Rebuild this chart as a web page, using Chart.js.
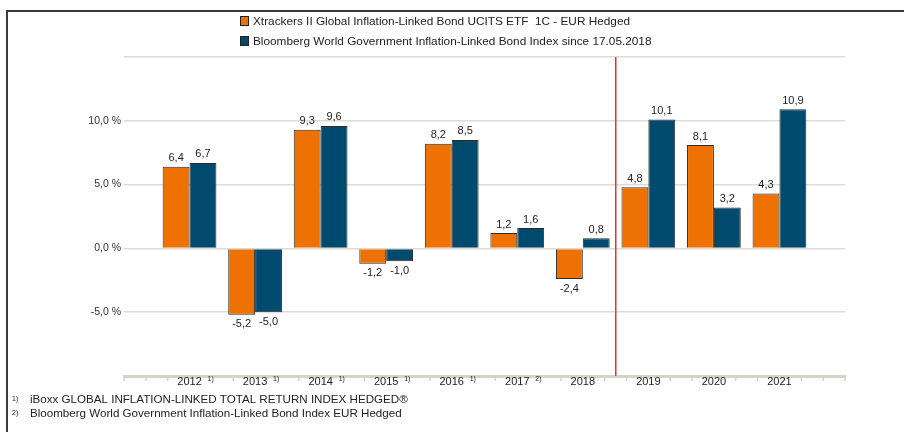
<!DOCTYPE html>
<html>
<head>
<meta charset="utf-8">
<script src="https://cdn.jsdelivr.net/npm/chart.js@4"></script>
<style>
html,body{margin:0;padding:0;background:#fff;}
#wrap{width:904px;height:432px;position:relative;}
</style>
</head>
<body>
<div id="wrap"><canvas id="c" width="904" height="432"></canvas></div>
<script>
const categories = ['2012','2013','2014','2015','2016','2017','2018','2019','2020','2021'];
const superscripts = ['1)','1)','1)','1)','1)','2)','','','',''];
const etfValues = [6.4,-5.2,9.3,-1.2,8.2,1.2,-2.4,4.8,8.1,4.3];
const indexValues = [6.7,-5.0,9.6,-1.0,8.5,1.6,0.8,10.1,3.2,10.9];
const seriesNames = [
  'Xtrackers II Global Inflation-Linked Bond UCITS ETF  1C - EUR Hedged',
  'Bloomberg World Government Inflation-Linked Bond Index since 17.05.2018'
];
const yTicks = [-10, -5, 0, 5, 10, 15];
const yLabeled = [-5, 0, 5, 10];
const footnotes = [
  ['1)', 'iBoxx GLOBAL INFLATION-LINKED TOTAL RETURN INDEX HEDGED®'],
  ['2)', 'Bloomberg World Government Inflation-Linked Bond Index EUR Hedged']
];
const splitAfter = '2018';

const FONT = '"Liberation Sans", Arial, sans-serif';
const ORANGE = '#EE7203';
const BLUE = '#004A6E';

const labels = ['', ...categories, ''];
const pad = a => [null, ...a, null];
const fmt = v => v.toFixed(1).replace('.', ',');

const decor = {
  id: 'decor',
  beforeDraw(chart) {
    const ctx = chart.ctx;
    ctx.save();
    ctx.fillStyle = '#fff';
    ctx.fillRect(0, 0, chart.width, chart.height);
    ctx.restore();
  },
  afterDatasetsDraw(chart) {
    const ctx = chart.ctx;
    const x = chart.scales.x, y = chart.scales.y;
    const ca = chart.chartArea;
    ctx.save();

    // data labels
    ctx.font = '11px ' + FONT;
    ctx.fillStyle = '#222';
    ctx.textAlign = 'center';
    chart.data.datasets.forEach((ds, di) => {
      const meta = chart.getDatasetMeta(di);
      meta.data.forEach((bar, i) => {
        const v = ds.data[i];
        if (v === null || v === undefined) return;
        if (v >= 0) { ctx.textBaseline = 'bottom'; ctx.fillText(fmt(v), bar.x, bar.y - 3); }
        else { ctx.textBaseline = 'top'; ctx.fillText(fmt(v), bar.x, bar.y + 4); }
      });
    });

    // x-axis minor ticks
    const step = (x.getPixelForValue(1) - x.getPixelForValue(0)) / 3;
    ctx.strokeStyle = '#D5D2C8';
    ctx.lineWidth = 1.5;
    const n = (labels.length - 1) * 3;
    for (let p = 0; p <= n; p++) {
      const li = Math.floor(p / 3);
      if (p % 3 === 0 && labels[li] !== '') continue;
      if (p % 3 === 1 && li >= 1 && li <= categories.length && superscripts[li - 1]) continue;
      const tx = x.getPixelForValue(0) + p * step;
      ctx.beginPath(); ctx.moveTo(tx, ca.bottom); ctx.lineTo(tx, ca.bottom + 5); ctx.stroke();
    }

    // superscripts
    ctx.font = '7px ' + FONT;
    ctx.fillStyle = '#222';
    ctx.textAlign = 'left';
    ctx.textBaseline = 'middle';
    categories.forEach((c, i) => {
      if (!superscripts[i]) return;
      const px = x.getPixelForValue(i + 1);
      ctx.fillText(superscripts[i], px + 18, ca.bottom + 3);
    });

    // legend
    const colors = [ORANGE, BLUE];
    seriesNames.forEach((name, i) => {
      const cy = 21 + i * 20;
      ctx.fillStyle = colors[i];
      ctx.fillRect(240, cy - 5, 9, 10);
      ctx.strokeStyle = '#222';
      ctx.lineWidth = 1;
      ctx.strokeRect(240.5, cy - 4.5, 8, 9);
      ctx.font = '11.8px ' + FONT;
      ctx.fillStyle = '#222';
      ctx.textAlign = 'left';
      ctx.textBaseline = 'middle';
      ctx.fillText(name, 253, cy + 0.5);
    });

    // footnotes
    footnotes.forEach((f, i) => {
      const fy = 399 + i * 14;
      ctx.font = '7px ' + FONT;
      ctx.fillText(f[0], 12, fy);
      ctx.font = '11.6px ' + FONT;
      ctx.fillText(f[1], 30, fy + 0.5);
    });

    // frame
    ctx.strokeStyle = '#3a3a3a';
    ctx.lineWidth = 2;
    ctx.beginPath();
    ctx.moveTo(7, chart.height); ctx.lineTo(7, 11); ctx.lineTo(chart.width, 11);
    ctx.stroke();
    ctx.restore();

    // red split line
    ctx.save();
    const si = labels.indexOf(splitAfter);
    const rx = Math.round(x.getPixelForValue(si + 0.5));
    ctx.fillStyle = '#E8302C';
    ctx.fillRect(rx - 1, ca.top, 1.5, ca.bottom - ca.top);
    ctx.restore();
  }
};

new Chart(document.getElementById('c'), {
  type: 'bar',
  data: {
    labels: labels,
    datasets: [
      { label: seriesNames[0], data: pad(etfValues), backgroundColor: ORANGE, borderColor: '#2b2b2b', borderWidth: 1 },
      { label: seriesNames[1], data: pad(indexValues), backgroundColor: BLUE, borderColor: '#2b2b2b', borderWidth: 1 }
    ]
  },
  options: {
    responsive: false,
    animation: false,
    devicePixelRatio: 1,
    layout: { padding: { left: 0, right: 59, top: 57, bottom: 0 } },
    datasets: { bar: { categoryPercentage: 0.82, barPercentage: 1.0 } },
    plugins: { legend: { display: false }, tooltip: { enabled: false } },
    scales: {
      x: {
        offset: false,
        grid: { display: false, drawTicks: false },
        border: { display: true, color: '#D5D2C8', width: 3 },
        ticks: { font: { family: FONT, size: 11 }, color: '#222', padding: -1, maxRotation: 0, autoSkip: false },
        afterFit(s) { s.height = 56; }
      },
      y: {
        min: -10, max: 15,
        afterBuildTicks(s) { s.ticks = yTicks.map(v => ({ value: v })); },
        grid: {
          drawTicks: false,
          color: ctx => (ctx.tick && ctx.tick.value === -10) ? 'rgba(0,0,0,0)' : '#DDDBD3',
          lineWidth: 1.5
        },
        border: { display: false },
        ticks: {
          font: { family: FONT, size: 10.5 }, color: '#333', padding: 3,
          callback: v => yLabeled.includes(v) ? fmt(v) + ' %' : ''
        },
        afterFit(s) { s.width = 124; }
      }
    }
  },
  plugins: [decor]
});
</script>
</body>
</html>
